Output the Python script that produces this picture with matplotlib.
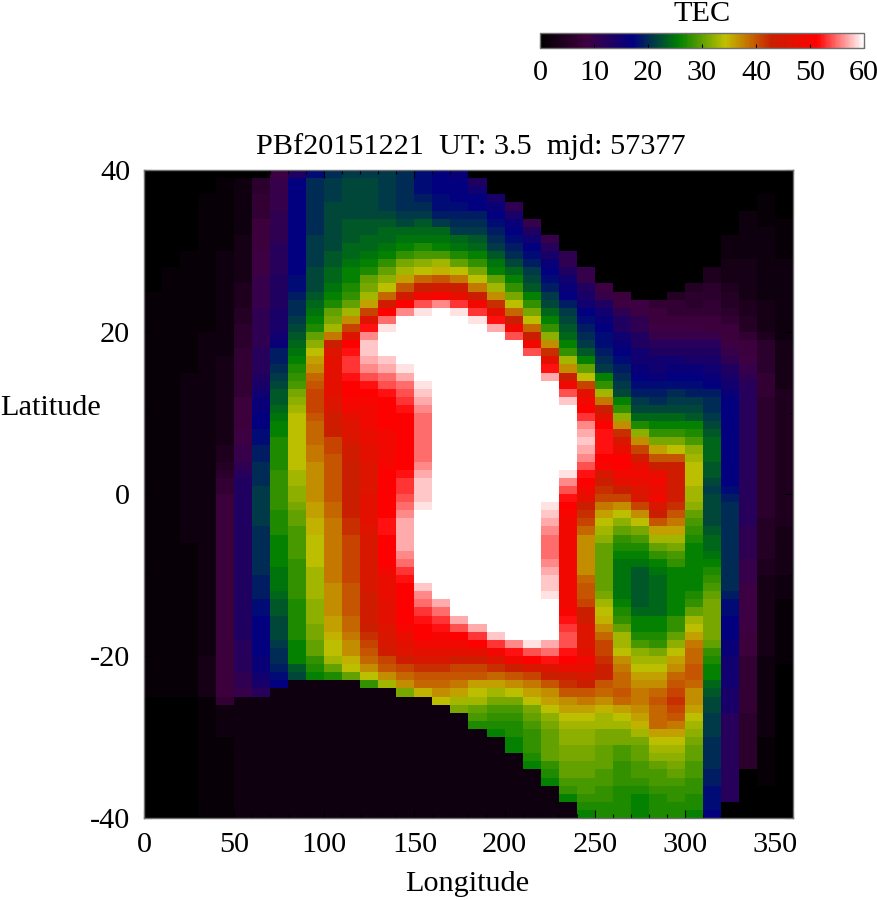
# TEC map, longitude vs latitude, 10 deg x 1 deg cells
import numpy as np
import matplotlib
matplotlib.use('Agg')
import matplotlib.pyplot as plt
from matplotlib.colors import LinearSegmentedColormap

plt.rcParams['font.family'] = ['Liberation Serif', 'DejaVu Serif']
plt.rcParams['axes.unicode_minus'] = False

title = 'PBf20151221  UT: 3.5  mjd: 57377'
lon_edges = list(range(0, 370, 10))
lat_edges = list(range(40, -41, -1))
lon_ticks = [0, 50, 100, 150, 200, 250, 300, 350]
lat_ticks = [-40, -20, 0, 20, 40]
cbar_ticks = [0, 10, 20, 30, 40, 50, 60]
palette = ['#000000', '#400040', '#000080', '#008000', '#c0c000', '#c82000', '#ff0000', '#ffffff']

# one list per longitude column, from lat 40 down to lat -40
tec_columns = [
 [0,0,0,0,0,0,0,0,0,0, 0,0,0,0,0,1,1,1,1,1, 1,1,1,1,1,1,1,1,1,1, 1,1,1,1,1,1,1,1,1,1,
  1,1,1,1,1,1,1,1,1,1, 1,1,1,1,1,1,1,1,1,1, 1,1,1,1,1,0,0,0,0,0, 0,0,0,0,0,0,0,0,0,0],
 [0,0,0,0,0,0,0,0,0,0, 0,0,1,1,1,1,1,1,1,1, 1,1,1,1,1,1,1,1,1,1, 1,1,1,1,1,1,1,1,1,1,
  1,1,1,1,1,1,1,1,1,1, 1,1,1,1,1,1,1,1,1,1, 1,1,1,1,1,0,0,0,0,0, 0,0,0,0,0,0,0,0,0,0],
 [0,0,0,0,0,0,0,0,0,0, 1,1,1,1,1,1,1,1,1,1, 1,1,1,1,1,2,2,2,2,2, 2,2,2,2,2,2,2,2,2,2,
  2,2,2,2,2,2,1,1,1,1, 1,1,1,1,1,1,1,1,1,1, 1,1,1,1,1,0,0,0,0,0, 0,0,0,0,0,0,0,0,0,0],
 [0,0,0,1,1,1,1,1,1,1, 1,1,1,1,1,1,1,1,1,1, 2,2,2,2,2,2,2,2,2,2, 2,2,2,2,2,2,2,2,2,2,
  2,2,2,2,2,2,2,2,2,2, 2,2,2,2,2,2,2,2,2,2, 3,3,3,3,3,1,1,1,1,1, 1,1,1,1,1,1,1,1,1,1],
 [0,1,1,1,1,1,1,1,1,1, 2,2,2,2,2,2,2,2,2,2, 2,2,2,3,3,3,3,3,3,3, 3,3,3,3,4,4,5,6,7,7,
  8,8,8,8,8,8,8,8,8,8, 8,8,8,8,8,8,8,8,8,8, 8,8,8,8,8,7,2,2,2,2, 1,1,1,1,1,1,1,1,1,1],
 [0,2,2,2,2,2,2,2,3,3, 3,3,3,3,4,4,4,5,5,6, 6,6,7,7,7,7,7,7,8,8, 8,8,9,9,10,10,11,12,13,13,
  13,13,13,13,13,13,13,13,13,13, 13,13,13,13,13,13,13,13,12,12, 12,12,11,11,10,2,2,2,2,2, 2,2,2,2,2,2,2,2,2,2],
 [0,6,6,7,7,7,8,8,8,8, 9,9,9,10,10,10,10,11,11,11, 11,11,12,12,12,13,14,15,16,16, 17,17,18,18,19,19,20,20,20,21,
  21,21,21,21,20,20,20,20,20,20, 19,19,19,18,18,17,17,17,17,17, 16,16,15,14,12,2,2,2,2,2, 2,2,2,2,2,2,2,2,2,2],
 [9,10,10,10,10,11,11,11,11,12, 12,12,12,13,13,13,13,14,14,14, 15,16,19,19,20,21,22,23,23,24, 25,26,26,27,27,27,27,28,28,28,
  28,28,27,27,27,26,26,26,26,25, 25,25,24,23,23,22,22,22,21,20, 20,19,18,17,2,2,2,2,2,2, 2,2,2,2,2,2,2,2,2,2],
 [13,17,17,17,17,17,17,17,17,17, 17,17,17,18,18,19,20,20,21,22, 23,24,25,26,27,28,29,31,32,33, 34,34,34,34,34,34,34,33,33,32,
  32,31,30,30,29,29,29,29,28,28, 28,28,28,27,27,27,27,27,26,26, 26,23,22,2,2,2,2,2,2,2, 2,2,2,2,2,2,2,2,2,2],
 [18,20,20,20,20,20,20,20,21,21, 21,21,22,22,22,23,24,25,26,27, 30,32,34,36,37,39,40,41,41,41, 40,39,39,39,38,38,37,37,37,37,
  37,36,36,35,35,34,34,34,34,33, 33,33,33,32,32,32,31,31,30,30, 28,27,26,2,2,2,2,2,2,2, 2,2,2,2,2,2,2,2,2,2],
 [20,21,21,21,22,22,22,22,22,22, 23,23,24,24,25,26,27,30,31,33, 38,43,46,47,47,47,47,47,46,45, 44,44,43,41,41,40,40,40,40,40,
  40,39,39,38,38,38,38,38,38,38, 38,37,37,37,37,36,36,35,34,34, 33,30,27,2,2,2,2,2,2,2, 2,2,2,2,2,2,2,2,2,2],
 [21,22,22,22,22,22,23,23,23,24, 24,25,26,26,27,28,30,33,37,41, 46,51,52,53,53,52,51,51,50,49, 47,46,46,45,44,44,43,43,43,43,
  43,43,43,42,42,41,41,41,41,41, 41,40,40,40,40,39,39,38,37,37, 35,34,30,2,2,2,2,2,2,2, 2,2,2,2,2,2,2,2,2,2],
 [21,22,22,22,22,22,23,23,24,24, 25,26,27,30,31,33,36,41,46,52, 56,58,58,57,56,54,52,51,50,49, 49,49,48,48,47,47,46,46,46,46,
  47,47,47,47,46,45,45,45,45,45, 45,45,44,44,44,44,43,42,41,40, 39,37,34,28,2,2,2,2,2,2, 2,2,2,2,2,2,2,2,2,2],
 [21,21,21,21,21,22,23,24,24,25, 26,28,30,32,34,39,44,51,55,59, 60,60,60,58,57,55,54,52,51,51, 51,51,49,49,49,49,50,51,51,51,
  51,51,51,52,52,51,51,51,51,49, 48,48,48,47,47,47,46,45,45,44, 41,40,37,33,2,2,2,2,2,2, 2,2,2,2,2,2,2,2,2,2],
 [20,20,20,20,20,21,22,24,25,26, 28,31,33,36,40,44,51,56,60,60, 60,60,60,60,59,57,55,54,53,52, 51,51,51,51,51,51,51,52,53,53,
  54,55,56,57,57,57,57,56,55,53, 52,51,51,51,51,51,50,48,47,46, 44,41,39,37,31,2,2,2,2,2, 2,2,2,2,2,2,2,2,2,2],
 [18,18,18,19,20,21,23,24,25,27, 29,32,34,39,43,49,54,59,60,60, 60,60,60,60,60,60,59,58,57,56, 55,55,55,55,55,55,56,57,58,58,
  58,59,60,60,60,60,60,60,60,60, 60,58,56,55,53,52,51,51,49,47, 45,42,40,39,35,2,2,2,2,2, 2,2,2,2,2,2,2,2,2,2],
 [17,17,17,18,18,19,21,24,25,26, 29,33,35,40,44,50,56,60,60,60, 60,60,60,60,60,60,60,60,60,60, 60,60,60,60,60,60,60,60,60,60,
  60,60,60,60,60,60,60,60,60,60, 60,60,60,57,55,53,52,50,49,47, 45,42,40,39,37,34,2,2,2,2, 2,2,2,2,2,2,2,2,2,2],
 [16,17,17,17,18,19,20,21,24,25, 27,30,34,38,43,48,53,59,60,60, 60,60,60,60,60,60,60,60,60,60, 60,60,60,60,60,60,60,60,60,60,
  60,60,60,60,60,60,60,60,60,60, 60,60,60,60,60,57,54,51,49,47, 44,41,40,38,36,33,31,2,2,2, 2,2,2,2,2,2,2,2,2,2],
 [0,13,15,17,17,19,20,21,23,24, 26,28,31,34,38,43,49,53,59,60, 60,60,60,60,60,60,60,60,60,60, 60,60,60,60,60,60,60,60,60,60,
  60,60,60,60,60,60,60,60,60,60, 60,60,60,60,60,60,57,53,51,47, 44,41,40,36,34,33,30,29,27,2, 2,2,2,2,2,2,2,2,2,2],
 [0,0,0,14,16,17,18,19,20,21, 23,25,26,30,33,37,42,47,52,57, 60,60,60,60,60,60,60,60,60,60, 60,60,60,60,60,60,60,60,60,60,
  60,60,60,60,60,60,60,60,60,60, 60,60,60,60,60,60,60,58,53,49, 46,42,39,36,33,31,29,28,27,26, 2,2,2,2,2,2,2,2,2,2],
 [0,0,0,0,11,14,16,17,18,19, 20,22,24,26,28,31,34,39,43,49, 54,60,60,60,60,60,60,60,60,60, 60,60,60,60,60,60,60,60,60,60,
  60,60,60,60,60,60,60,60,60,60, 60,60,60,60,60,60,60,60,56,52, 49,43,40,37,34,31,29,28,27,27, 26,26,2,2,2,2,2,2,2,2],
 [0,0,0,0,0,0,10,13,15,17, 18,19,21,22,23,26,28,31,34,39, 43,49,54,60,60,60,60,60,60,60, 60,60,60,60,60,60,60,60,60,60,
  60,60,60,60,60,60,60,60,60,60, 60,60,60,60,60,60,60,60,59,54, 51,45,41,38,36,34,31,30,29,28, 28,28,27,26,2,2,2,2,2,2],
 [0,0,0,0,0,0,0,0,10,12, 14,16,17,18,19,21,22,24,26,28, 32,37,42,47,52,57,60,60,60,60, 60,60,60,60,60,60,60,60,60,60,
  60,59,58,57,56,55,55,55,56,57, 58,58,59,60,60,60,60,60,57,55, 52,46,43,40,37,36,34,32,31,30, 30,30,30,28,27,26,2,2,2,2],
 [0,0,0,0,0,0,0,0,0,0, 11,11,13,15,16,17,19,21,22,23, 24,26,28,33,37,43,49,54,58,60, 60,60,60,60,60,60,60,59,56,54,
  52,51,50,49,49,49,49,49,49,49, 49,49,49,49,50,52,53,54,54,52, 51,48,44,42,40,37,36,34,33,32, 32,31,31,30,30,29,28,26,2,2],
 [0,0,0,0,0,0,0,0,0,0, 0,0,10,10,13,14,15,17,18,19, 20,21,23,26,30,34,41,47,49,51, 53,56,57,58,57,56,54,52,51,49,
  47,43,42,41,39,37,37,37,37,37, 39,40,40,41,43,44,46,46,46,47, 49,48,45,43,40,38,36,34,33,32, 32,31,31,30,30,29,29,28,27,26],
 [0,0,0,0,0,0,0,0,0,0, 0,0,0,0,9,10,13,15,16,17, 18,18,19,20,21,26,28,33,38,43, 47,51,52,52,52,51,50,45,43,42,
  41,38,36,34,33,32,30,30,30,30, 30,30,31,33,34,35,37,39,41,41, 42,43,43,40,39,37,35,33,33,31, 31,30,30,30,29,29,28,28,27,27],
 [0,0,0,0,0,0,0,0,0,0, 0,0,0,0,0,8,9,11,13,13, 15,16,17,18,19,20,21,22,26,28, 32,37,42,45,48,51,51,49,47,43,
  41,37,34,32,30,28,27,26,25,25, 25,25,25,26,27,28,30,33,33,34, 37,38,39,39,40,39,36,34,33,31, 31,29,29,28,28,28,27,27,27,27],
 [0,0,0,0,0,0,0,0,0,0, 0,0,0,0,0,0,9,9,11,11, 13,13,15,15,16,17,18,19,21,22, 24,27,32,37,41,44,48,49,48,46,
  45,41,37,34,31,29,27,26,25,23, 23,23,23,23,24,26,26,27,29,32, 33,34,36,37,38,38,37,36,35,33, 31,30,30,29,29,28,27,26,26,26],
 [0,0,0,0,0,0,0,0,0,0, 0,0,0,0,0,0,7,8,8,9, 10,12,13,15,15,16,18,19,20,22, 24,26,28,31,36,40,43,48,49,48,
  49,45,43,40,36,33,30,28,26,25, 24,24,24,24,24,26,26,27,28,31, 33,34,36,37,39,40,39,39,39,36, 34,33,32,30,29,29,28,27,27,27],
 [0,0,0,0,0,0,0,0,0,0, 0,0,0,0,0,5,7,7,8,9, 10,12,13,15,16,17,18,20,21,22, 24,26,28,31,34,40,43,44,44,44,
  44,42,40,38,36,33,31,29,28,26, 26,26,26,26,26,28,28,30,32,34, 36,37,39,40,41,42,41,40,38,36, 34,33,32,31,30,29,28,28,27,27],
 [0,0,0,0,0,0,0,0,0,0, 0,0,0,0,5,6,6,7,8,9, 10,12,13,14,16,17,18,19,21,22, 23,26,27,29,32,33,34,34,34,33,
  33,32,30,29,28,27,26,26,26,26, 26,26,27,28,30,33,34,36,38,39, 39,40,40,39,37,37,36,34,33,32, 31,30,30,29,29,28,28,27,27,26],
 [0,0,0,0,0,0,0,0,0,0, 0,0,4,4,6,6,7,7,8,8, 10,12,13,14,15,16,17,19,20,20, 21,22,23,24,24,24,23,23,22,21,
  22,22,22,22,23,24,24,25,26,27, 28,29,30,31,31,31,31,31,30,28, 27,26,26,24,23,22,22,21,21,21, 20,20,20,20,19,19,18,18,18,17],
 [0,0,0,0,0,0,0,0,2,2, 2,3,3,3,4,5,5,6,7,8, 8,9,10,11,13,14,15,16,17,17, 17,17,17,17,17,17,17,17,17,18,
  19,20,20,20,20,20,20,20,20,20, 20,20,19,18,18,17,17,17,16,16, 15,15,15,15,14,14,14,12,12,12, 12,12,12,12,12,12,12,12,0,0],
 [0,0,0,0,0,2,2,2,2,2, 2,3,3,3,3,3,4,4,5,5, 7,8,8,9,10,11,12,12,12,12, 12,12,12,12,12,12,12,12,12,12,
  12,12,12,12,11,11,11,11,10,10, 10,9,9,9,9,9,9,8,8,8, 7,7,7,7,7,7,7,6,6,6, 6,6,6,6,0,0,0,0,0,0],
 [0,0,0,1,1,1,1,2,2,2, 2,2,2,2,2,2,3,3,3,3, 4,6,6,6,6,7,7,7,6,6, 6,6,6,6,6,6,6,6,6,6,
  6,6,6,5,5,5,5,5,4,4, 3,3,3,3,3,3,3,3,3,3, 2,2,2,2,2,2,2,2,2,2, 1,1,1,1,1,1,0,0,0,0],
 [0,0,0,0,0,0,1,1,1,1, 1,2,2,2,2,2,2,2,2,2, 2,3,3,3,3,3,3,4,4,4, 4,4,4,4,4,4,4,4,4,4,
  4,4,4,4,3,3,3,3,3,3, 2,2,2,1,1,1,1,1,1,1, 1,0,0,0,0,0,0,0,0,0, 0,0,0,0,0,0,0,0,0,0],
]

W, H = 878, 900
tec = np.array(tec_columns, dtype=float).T
cmap = LinearSegmentedColormap.from_list('tec', palette, N=256)
border = '#707070'
fs = 21.8

fig = plt.figure(figsize=(W / 100, H / 100), dpi=100)
ax = fig.add_axes([144 / W, 1 - 818 / H, 649 / W, 648 / H])
mesh = ax.pcolormesh(lon_edges, lat_edges, tec, cmap=cmap, vmin=0, vmax=60, shading='flat')
ax.set_xlim(0, 360)
ax.set_ylim(-40, 40)
ax.set_xticks(lon_ticks)
ax.set_xticks(lon_edges, minor=True)
ax.set_yticks(lat_ticks)
ax.set_yticks([-30, -10, 10, 30], minor=True)
ax.tick_params(which='major', direction='in', top=True, right=True, length=6, width=0.8,
               labelsize=fs, pad=10)
ax.tick_params(which='minor', direction='in', top=True, right=True, length=3, width=0.8)
for s in ax.spines.values():
    s.set_color(border)
    s.set_linewidth(1)
fig.text(471 / W, 1 - 147 / H, title, ha='center', va='center', fontsize=fs)
fig.text(467 / W, 1 - 884 / H, 'Longitude', ha='center', va='center', fontsize=fs)
fig.text(0, 1 - 408 / H, 'Latitude', ha='left', va='center', fontsize=fs)

cax = fig.add_axes([540 / W, 1 - 48 / H, 324 / W, 15 / H])
cb = fig.colorbar(mesh, cax=cax, orientation='horizontal')
cb.set_ticks(cbar_ticks)
cb.ax.tick_params(direction='in', length=3, width=0.8, labelsize=fs, pad=9)
cb.outline.set_edgecolor(border)
cb.outline.set_linewidth(1)
fig.text(702 / W, 1 - 21 / H, 'TEC', ha='center', va='baseline', fontsize=fs)

fig.savefig('out.png', dpi=100)
